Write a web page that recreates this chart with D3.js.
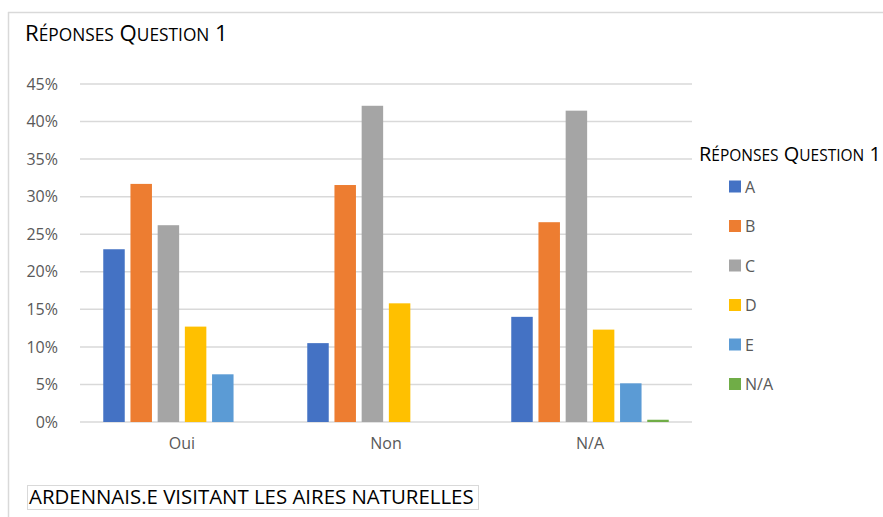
<!DOCTYPE html>
<html><head><meta charset="utf-8">
<script src="https://cdn.jsdelivr.net/npm/d3@7"></script>
<style>
body{margin:0;background:#fff;}
svg{display:block;font-family:"Open Sans","Lato",sans-serif;}
</style></head>
<body><svg id="c" width="883" height="517"></svg>
<script>
const categories = ["Oui","Non","N/A"];
const seriesNames = ["A","B","C","D","E","N/A"];
const seriesColors = ["#4472C4","#ED7D31","#A5A5A5","#FFC000","#5B9BD5","#70AD47"];
const valuesA  = [23.0, 10.5, 14.0];
const valuesB  = [31.7, 31.55, 26.6];
const valuesC  = [26.2, 42.1, 41.45];
const valuesD  = [12.7, 15.8, 12.3];
const valuesE  = [6.35, 0, 5.15];
const valuesNA = [0, 0, 0.3];
const yTicks = [0,5,10,15,20,25,30,35,40,45];
const chartTitle = "Réponses Question 1";
const legendTitle = "Réponses Question 1";
const footnote = "ARDENNAIS.E VISITANT LES AIRES NATURELLES";

const seriesValues = [valuesA, valuesB, valuesC, valuesD, valuesE, valuesNA];
const svg = d3.select("#c");

// small-caps text built from tspans, fitted to a target width
function smallCaps(g, x, yb, txt, big, small, targetW){
  const t = g.append("text").attr("x",x).attr("y",yb).attr("fill","#000");
  const parts = [];
  txt.split(" ").forEach((w,i)=>{
    const pre = i>0 ? " " : "";
    parts.push({s:pre+w[0].toUpperCase(), big:true});
    if (w.length>1) parts.push({s:w.slice(1).toUpperCase(), big:false});
  });
  const spans = t.selectAll("tspan").data(parts).join("tspan")
    .attr("font-size",d=>d.big?big:small).text(d=>d.s);
  const len = t.node().getComputedTextLength();
  const k = targetW/len;
  spans.attr("font-size",d=>(d.big?big:small)*k);
  return t;
}

// outer chart border (top and left visible)
svg.append("line").attr("x1",8).attr("x2",883).attr("y1",12.5).attr("y2",12.5).attr("stroke","#d9d9d9").attr("stroke-width",1.5);
svg.append("line").attr("x1",8.5).attr("x2",8.5).attr("y1",12).attr("y2",517).attr("stroke","#d9d9d9").attr("stroke-width",1.5);

smallCaps(svg, 25, 41, chartTitle, 20, 15.6, 203);

const x0 = d3.scaleBand().domain(categories).range([80,692]).paddingInner(0.228).paddingOuter(0.114);
const x1 = d3.scaleBand().domain(seriesNames).range([0,x0.bandwidth()]).paddingInner(0.21);
const y = d3.scaleLinear().domain([0,45]).range([422,84]);

// gridlines
svg.append("g").selectAll("line").data(yTicks).join("line")
  .attr("x1",80).attr("x2",692).attr("y1",d=>y(d)).attr("y2",d=>y(d))
  .attr("stroke","#d9d9d9").attr("stroke-width",1.5);

// y axis labels
const yAxis = d3.axisLeft(y).tickValues(yTicks).tickFormat(d=>d+"%").tickSize(0).tickPadding(0);
const ya = svg.append("g").attr("transform","translate(58,0)").call(yAxis);
ya.select(".domain").remove();
ya.selectAll("text").attr("font-size",16).attr("fill","#595959").attr("font-family","Open Sans, Lato, sans-serif");

// x axis labels
const xAxis = d3.axisBottom(x0).tickSize(0).tickPadding(0);
const xa = svg.append("g").attr("transform","translate(0,438)").call(xAxis);
xa.select(".domain").remove();
xa.selectAll("text").attr("font-size",16).attr("fill","#595959").attr("font-family","Open Sans, Lato, sans-serif");

// bars
const groups = svg.append("g").selectAll("g").data(categories).join("g")
  .attr("transform",c=>`translate(${x0(c)},0)`);
groups.selectAll("rect").data((c,ci)=>seriesNames.map((s,si)=>({s,si,v:seriesValues[si][ci]})))
  .join("rect")
  .attr("x",d=>x1(d.s)).attr("width",x1.bandwidth())
  .attr("y",d=>y(d.v)).attr("height",d=>y(0)-y(d.v))
  .attr("fill",d=>seriesColors[d.si]);

// legend
smallCaps(svg, 699, 161, legendTitle, 18, 14, 182);
const leg = svg.append("g").selectAll("g").data(seriesNames).join("g")
  .attr("transform",(d,i)=>`translate(729,${186.5+i*39.5})`);
leg.append("rect").attr("x",0).attr("y",-6).attr("width",12).attr("height",12).attr("fill",(d,i)=>seriesColors[i]);
leg.append("text").attr("x",16).attr("y",6).attr("font-size",16).attr("fill","#595959").text(d=>d);

// footnote box
const fb = svg.append("g");
fb.append("rect").attr("x",27.5).attr("y",485.5).attr("width",451).attr("height",24).attr("fill","#fff").attr("stroke","#d9d9d9").attr("stroke-width",1);
const ft = fb.append("text").attr("x",29).attr("y",504).attr("font-size",19).attr("fill","#000").text(footnote);
const fl = ft.node().getComputedTextLength();
ft.attr("font-size",19*445/fl);
</script></body></html>
